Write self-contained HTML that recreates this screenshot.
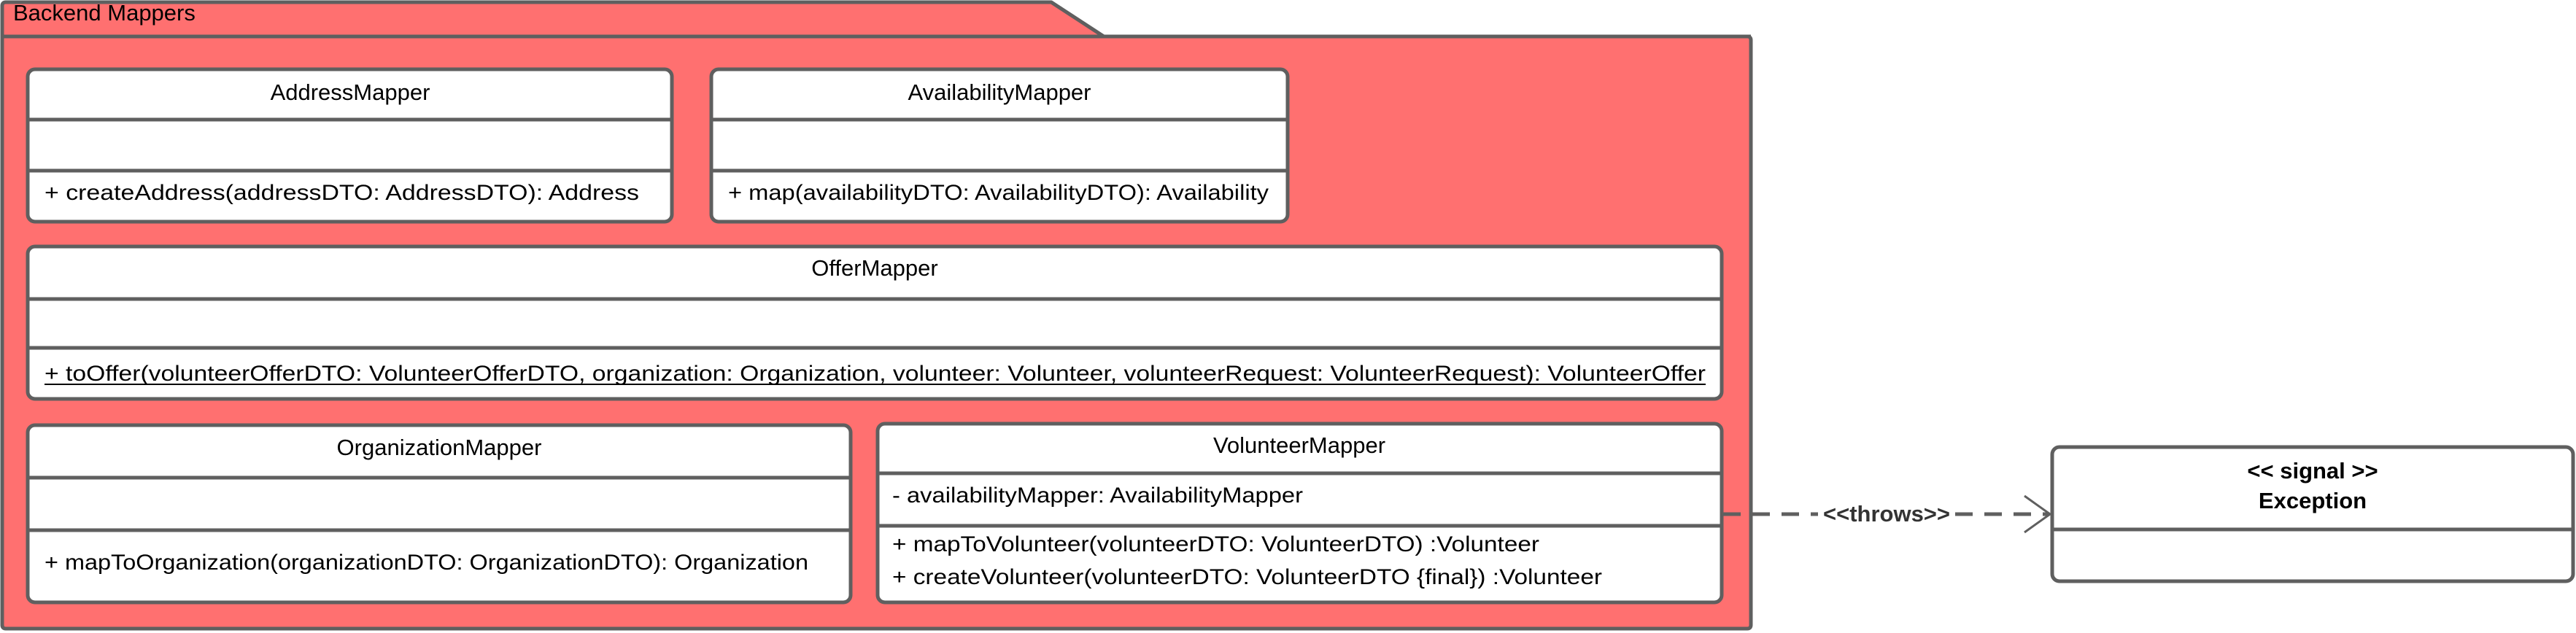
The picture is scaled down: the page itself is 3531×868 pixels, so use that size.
<!DOCTYPE html>
<html><head><meta charset="utf-8"><style>
html,body{margin:0;padding:0;background:#fff;}
svg{display:block;}
text{font-family:"Liberation Sans",Arial,sans-serif;font-size:30px;fill:#000;}
.t{font-size:31px;}
</style></head><body>
<svg width="3531" height="868" viewBox="0 0 3531 868" xmlns="http://www.w3.org/2000/svg">
<g stroke="#5f5f5f" stroke-width="5" stroke-linejoin="round">
<path d="M3,50 L3,8 Q3,3 8,3 L1441,3 L1513,50 L2395,50 Q2400,50 2400,55 L2400,857 Q2400,862 2395,862 L8,862 Q3,862 3,857 Z" fill="#ff7070"/>
<line x1="3" y1="50" x2="2400" y2="50"/>
<rect x="38" y="95" width="883" height="209" rx="10" fill="#fff"/>
<line x1="38" y1="164" x2="921" y2="164"/><line x1="38" y1="234" x2="921" y2="234"/>
<rect x="975" y="95" width="790" height="209" rx="10" fill="#fff"/>
<line x1="975" y1="164" x2="1765" y2="164"/><line x1="975" y1="234" x2="1765" y2="234"/>
<rect x="38" y="338" width="2322" height="209" rx="10" fill="#fff"/>
<line x1="38" y1="410" x2="2360" y2="410"/><line x1="38" y1="477" x2="2360" y2="477"/>
<rect x="38" y="583" width="1128" height="243" rx="10" fill="#fff"/>
<line x1="38" y1="655" x2="1166" y2="655"/><line x1="38" y1="727" x2="1166" y2="727"/>
<rect x="1203" y="581" width="1157" height="245" rx="10" fill="#fff"/>
<line x1="1203" y1="649" x2="2360" y2="649"/><line x1="1203" y1="721" x2="2360" y2="721"/>
<rect x="2813" y="613" width="714" height="184" rx="10" fill="#fff"/>
<line x1="2813" y1="726" x2="3527" y2="726"/>
<line x1="2362" y1="705" x2="2492" y2="705" stroke-dasharray="24,16"/>
<line x1="2680" y1="705" x2="2808" y2="705" stroke-dasharray="24,16"/>
<polyline points="2775,680 2810,705 2775,730" fill="none" stroke-width="3"/>
</g>
<text x="18" y="28" class="t">Backend Mappers</text>
<text x="480" y="137" text-anchor="middle" class="t">AddressMapper</text>
<text x="61" y="274" textLength="815" lengthAdjust="spacingAndGlyphs">+ createAddress(addressDTO: AddressDTO): Address</text>
<text x="1370" y="137" text-anchor="middle" class="t">AvailabilityMapper</text>
<text x="998" y="274" textLength="741" lengthAdjust="spacingAndGlyphs">+ map(availabilityDTO: AvailabilityDTO): Availability</text>
<text x="1199" y="378" text-anchor="middle" class="t">OfferMapper</text>
<text x="61" y="522" textLength="2277" lengthAdjust="spacingAndGlyphs">+ toOffer(volunteerOfferDTO: VolunteerOfferDTO, organization: Organization, volunteer: Volunteer, volunteerRequest: VolunteerRequest): VolunteerOffer</text>
<line x1="61" y1="527" x2="2338" y2="527" stroke="#000" stroke-width="2"/>
<text x="602" y="624" text-anchor="middle" class="t">OrganizationMapper</text>
<text x="61" y="781" textLength="1047" lengthAdjust="spacingAndGlyphs">+ mapToOrganization(organizationDTO: OrganizationDTO): Organization</text>
<text x="1781" y="621" text-anchor="middle" class="t">VolunteerMapper</text>
<text x="1223" y="689" textLength="563" lengthAdjust="spacingAndGlyphs">- availabilityMapper: AvailabilityMapper</text>
<text x="1223" y="756" textLength="887" lengthAdjust="spacingAndGlyphs">+ mapToVolunteer(volunteerDTO: VolunteerDTO) :Volunteer</text>
<text x="1223" y="801" textLength="973" lengthAdjust="spacingAndGlyphs">+ createVolunteer(volunteerDTO: VolunteerDTO {final}) :Volunteer</text>
<text x="3170" y="656" text-anchor="middle" font-weight="bold" class="t">&lt;&lt; signal &gt;&gt;</text>
<text x="3170" y="697" text-anchor="middle" font-weight="bold" class="t">Exception</text>
<text x="2586" y="715" text-anchor="middle" style="fill:#333;font-size:31px" font-weight="bold">&lt;&lt;throws&gt;&gt;</text>
</svg>
</body></html>
